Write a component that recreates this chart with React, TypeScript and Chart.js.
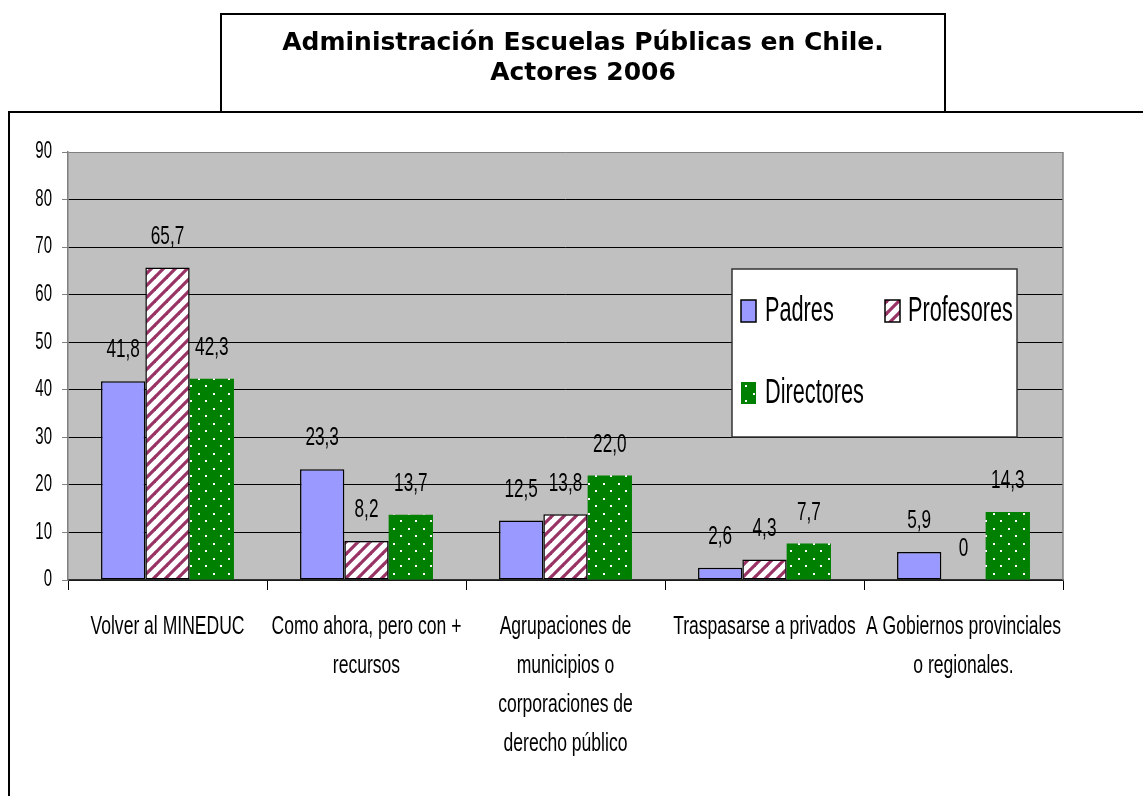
import React, { useEffect, useRef } from 'react';
import { Chart, registerables } from 'chart.js';

Chart.register(...registerables);

const titleLines = ['Administración Escuelas Públicas en Chile.', 'Actores 2006'];
const categories = [
  ['Volver al MINEDUC'],
  ['Como ahora, pero con +', 'recursos'],
  ['Agrupaciones de', 'municipios o', 'corporaciones de', 'derecho público'],
  ['Traspasarse a privados'],
  ['A Gobiernos provinciales', 'o regionales.'],
];
const seriesNames = ['Padres', 'Profesores', 'Directores'];
const padres = [41.8, 23.3, 12.5, 2.6, 5.9];
const profesores = [65.7, 8.2, 13.8, 4.3, 0];
const directores = [42.3, 13.7, 22.0, 7.7, 14.3];
const yTicks = [0, 10, 20, 30, 40, 50, 60, 70, 80, 90];

const SANS = '"Liberation Sans", Arial, sans-serif';

function makeStripe(): CanvasPattern | string {
  const s = 12;
  const c = document.createElement('canvas');
  c.width = s;
  c.height = s;
  const g = c.getContext('2d');
  if (!g) return '#993366';
  g.fillStyle = '#ffffff';
  g.fillRect(0, 0, s, s);
  g.strokeStyle = '#993366';
  g.lineWidth = 3.2;
  for (let k = -1; k <= 1; k++) {
    g.beginPath();
    g.moveTo(k * s - 1, s + 1);
    g.lineTo(k * s + s + 1, -1);
    g.stroke();
  }
  return g.createPattern(c, 'repeat') || '#993366';
}

function makeDots(): CanvasPattern | string {
  const s = 15;
  const c = document.createElement('canvas');
  c.width = s;
  c.height = s;
  const g = c.getContext('2d');
  if (!g) return '#008000';
  g.fillStyle = '#008000';
  g.fillRect(0, 0, s, s);
  g.fillStyle = '#ffffff';
  g.fillRect(3, 3, 2, 2);
  g.fillRect(10, 10, 2, 2);
  return g.createPattern(c, 'repeat') || '#008000';
}

function fmt(v: number): string {
  return v === 0 ? '0' : v.toFixed(1).replace('.', ',');
}

// narrow text: Liberation Sans squeezed horizontally
function narrowText(ctx: CanvasRenderingContext2D, text: string, x: number, y: number, size: number, sx: number, align: CanvasTextAlign) {
  ctx.save();
  ctx.translate(x, y);
  ctx.scale(sx, 1);
  ctx.font = `${size}px ${SANS}`;
  ctx.fillStyle = '#000';
  ctx.textAlign = align;
  ctx.textBaseline = 'middle';
  ctx.fillText(text, 0, 0);
  ctx.restore();
}

export default function App() {
  const ref = useRef<HTMLCanvasElement | null>(null);

  useEffect(() => {
    const canvas = ref.current;
    if (!canvas) return;
    const stripe = makeStripe();
    const dots = makeDots();
    const fills = ['#9999FF', stripe, dots];

    const framePlugin = {
      id: 'frame',
      beforeDraw(chart: any) {
        const { ctx, chartArea: a } = chart;
        ctx.save();
        ctx.fillStyle = '#ffffff';
        ctx.fillRect(0, 0, chart.width, chart.height);
        ctx.strokeStyle = '#000';
        ctx.lineWidth = 2;
        ctx.strokeRect(221, 14, 724, 98);
        ctx.beginPath();
        ctx.moveTo(9, chart.height + 2);
        ctx.lineTo(9, 112);
        ctx.lineTo(chart.width + 2, 112);
        ctx.stroke();
        ctx.fillStyle = '#000';
        ctx.font = 'bold 25px "DejaVu Sans", Verdana, sans-serif';
        ctx.textAlign = 'center';
        ctx.textBaseline = 'middle';
        titleLines.forEach((t, i) => ctx.fillText(t, 583, 43 + i * 30));
        ctx.fillStyle = '#C0C0C0';
        ctx.fillRect(a.left, a.top, a.right - a.left, a.bottom - a.top);
        ctx.restore();
      },
      beforeDatasetsDraw(chart: any) {
        const { ctx, chartArea: a } = chart;
        ctx.save();
        ctx.strokeStyle = '#808080';
        ctx.lineWidth = 1.5;
        ctx.beginPath();
        ctx.moveTo(a.right, a.top);
        ctx.lineTo(a.right, a.bottom);
        ctx.stroke();
        ctx.restore();
      },
      afterDraw(chart: any) {
        const { ctx } = chart;
        const xs = chart.scales.x;
        const ys = chart.scales.y;
        // y tick labels
        ys.ticks.forEach((t: any) => {
          narrowText(ctx, String(t.value), xs.left - 16, ys.getPixelForValue(t.value), 23, 0.65, 'right');
        });
        // x category labels
        categories.forEach((lines, i) => {
          const cx = xs.getPixelForValue(i);
          lines.forEach((ln, j) => {
            narrowText(ctx, ln, cx, xs.top + 47 + j * 39, 26, 0.675, 'center');
          });
        });
        // value labels
        chart.data.datasets.forEach((ds: any, di: number) => {
          const meta = chart.getDatasetMeta(di);
          meta.data.forEach((el: any, i: number) => {
            narrowText(ctx, fmt(ds.data[i]), el.x, el.y - 31, 26, 0.66, 'center');
          });
        });
        // legend
        ctx.save();
        ctx.fillStyle = '#ffffff';
        ctx.fillRect(732, 269, 285, 168);
        ctx.strokeStyle = '#333';
        ctx.lineWidth = 1.5;
        ctx.strokeRect(732, 269, 285, 168);
        const items = [
          { x: 741, y: 300, tx: 765, ty: 311 },
          { x: 885, y: 300, tx: 908, ty: 311 },
          { x: 741, y: 382, tx: 765, ty: 393 },
        ];
        items.forEach((it, i) => {
          ctx.fillStyle = fills[i] as any;
          ctx.fillRect(it.x, it.y, 15, 22);
          if (i < 2) {
            ctx.strokeStyle = '#000';
            ctx.lineWidth = 1.5;
            ctx.strokeRect(it.x, it.y, 15, 22);
          }
          narrowText(ctx, seriesNames[i], it.tx, it.ty, 35, 0.62, 'left');
        });
        ctx.restore();
      },
    };

    const chart = new Chart(canvas, {
      type: 'bar',
      data: {
        labels: categories,
        datasets: [
          { label: seriesNames[0], data: padres, backgroundColor: fills[0] as any, borderColor: '#000', borderWidth: 1.5, borderSkipped: false },
          { label: seriesNames[1], data: profesores, backgroundColor: fills[1] as any, borderColor: '#000', borderWidth: ((c: any) => (c.raw === 0 ? 0 : 1.5)) as any, borderSkipped: false },
          { label: seriesNames[2], data: directores, backgroundColor: fills[2] as any, borderWidth: 0 },
        ],
      },
      options: {
        animation: false,
        responsive: false,
        maintainAspectRatio: false,
        layout: { padding: { left: 8, top: 152, right: 80, bottom: 36 } },
        datasets: { bar: { categoryPercentage: 0.668, barPercentage: 1 } } as any,
        plugins: {
          legend: { display: false },
          title: { display: false },
          tooltip: { enabled: false },
        },
        scales: {
          x: {
            grid: { offset: true, drawOnChartArea: false, drawTicks: true, tickLength: 10, tickColor: '#000', lineWidth: 1 },
            border: { color: '#333', width: 1.5 },
            ticks: { display: false, autoSkip: false },
            afterFit: (s: any) => { s.height = 180; },
          },
          y: {
            min: 0,
            max: 90,
            afterBuildTicks: (s: any) => { s.ticks = yTicks.map((v) => ({ value: v })); },
            ticks: { display: false },
            grid: { color: ((c: any) => (c.tick && c.tick.value === 90 ? '#808080' : '#000')) as any, tickColor: '#808080', tickLength: 6, lineWidth: 1 },
            border: { color: '#808080', width: 1.5 },
            afterFit: (s: any) => { s.width = 60; },
          },
        },
      },
      plugins: [framePlugin],
    });
    return () => chart.destroy();
  }, []);

  return (
    <div style={{ position: 'absolute', left: 0, top: 0, width: 1143, height: 796 }}>
      <canvas ref={ref} width={1143} height={796} style={{ display: 'block' }} />
    </div>
  );
}
